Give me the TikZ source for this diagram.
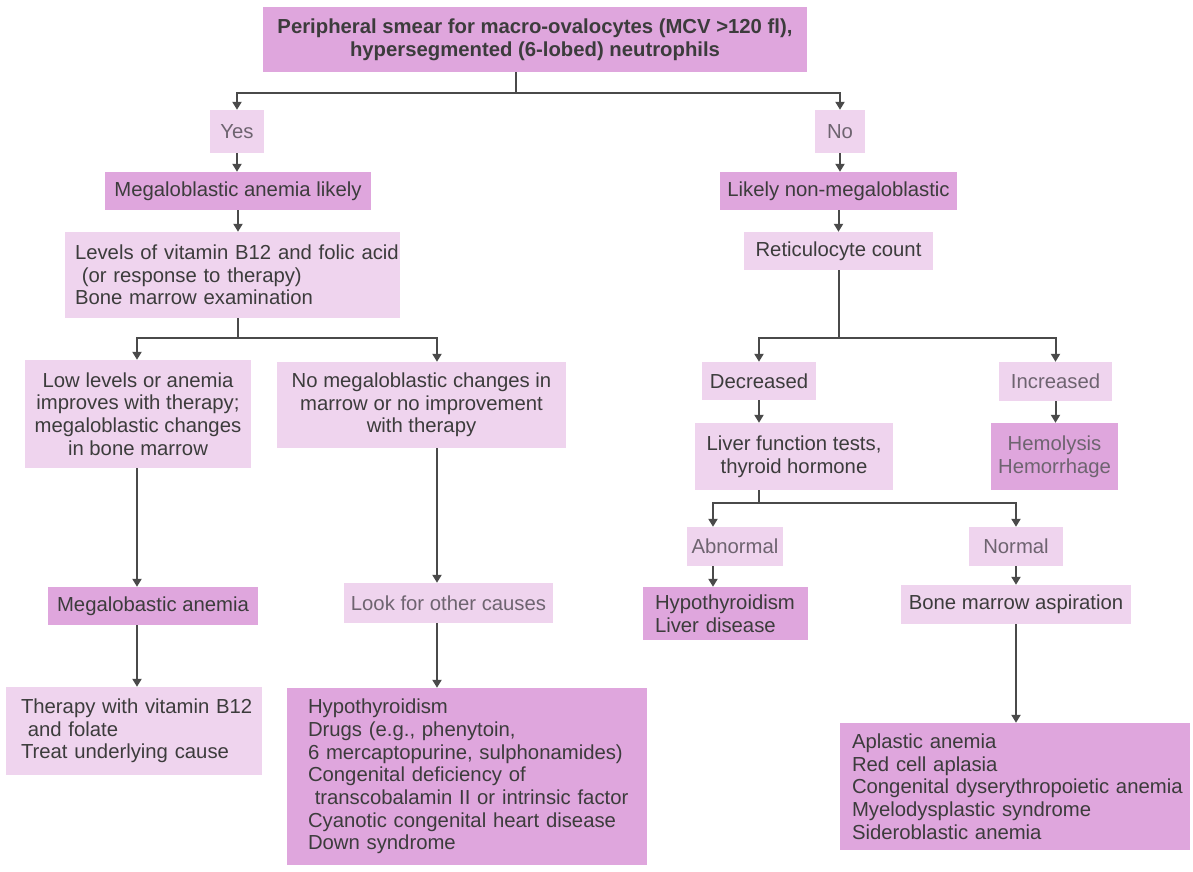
\documentclass[tikz,border=0pt]{standalone}
\usepackage{fontspec}
\setmainfont{Liberation Sans}
\usetikzlibrary{arrows.meta}
\definecolor{sat}{HTML}{DFA6DD}
\definecolor{lite}{HTML}{EFD4EE}
\definecolor{ink}{HTML}{3C3C3C}
\definecolor{dim}{HTML}{6E6470}
\definecolor{wire}{HTML}{4A4A4A}
\newcommand\bodyfont{\fontsize{20.3}{22.7}\selectfont}
\newcommand\tline[1]{\mbox{#1}}
\begin{document}
\begin{tikzpicture}[x=1pt,y=-1pt,
  every node/.style={font=\bodyfont},
  box/.style={inner sep=0pt, text=ink, anchor=center},
  satbox/.style={box, fill=sat},
  litebox/.style={box, fill=lite},
  dimtext/.style={text=dim},
  line/.style={draw=wire, line width=2pt},
  arr/.style={line, -{Triangle[width=9pt,length=8pt]}}]
\useasboundingbox (0,0) rectangle (1193,871);
\fill[white] (0,0) rectangle (1193,871);

% ---------- nodes ----------
\node[satbox, font=\bodyfont\bfseries, align=center, minimum width=544pt, minimum height=65pt] (top) at (535,39.5)
  {Peripheral smear for macro-ovalocytes (MCV >120 fl),\\hypersegmented (6-lobed) neutrophils};
\node[litebox, dimtext, minimum width=54pt, minimum height=43pt] (yes) at (237,131.5) {Yes};
\node[litebox, dimtext, minimum width=50pt, minimum height=43pt] (no) at (840,131.5) {No};
\node[satbox, minimum width=266pt, minimum height=38pt] (mal) at (238,191) {Megaloblastic anemia likely};
\node[satbox, minimum width=237pt, minimum height=38pt] (lnm) at (838.5,191) {Likely non-megaloblastic};
\node[litebox, align=left, inner xsep=10pt, text width=315pt, minimum height=86pt] (lev) at (232.5,275)
  {\tline{Levels of vitamin B12 and folic acid}\\\tline{\ (or response to therapy)}\\\tline{Bone marrow examination}};
\node[litebox, minimum width=189pt, minimum height=38pt] (ret) at (838.5,251) {Reticulocyte count};
\node[litebox, align=center, minimum width=226pt, minimum height=108pt] (low) at (138,414)
  {Low levels or anemia\\improves with therapy;\\megaloblastic changes\\in bone marrow};
\node[litebox, align=center, minimum width=289pt, minimum height=86pt] (nom) at (421.5,405)
  {No megaloblastic changes in\\marrow or no improvement\\with therapy};
\node[litebox, minimum width=114pt, minimum height=38pt] (dec) at (759,381) {Decreased};
\node[litebox, dimtext, minimum width=113pt, minimum height=39pt] (inc) at (1055.5,381.5) {Increased};
\node[litebox, align=center, minimum width=198pt, minimum height=67pt] (liv) at (794,456.5)
  {Liver function tests,\\thyroid hormone};
\node[satbox, dimtext, align=center, minimum width=127pt, minimum height=67pt] (hem) at (1054.5,456.5)
  {Hemolysis\\Hemorrhage};
\node[litebox, dimtext, minimum width=96pt, minimum height=39pt] (abn) at (735,546.5) {Abnormal};
\node[litebox, dimtext, minimum width=94pt, minimum height=39pt] (nor) at (1016,546.5) {Normal};
\node[satbox, align=left, inner xsep=12pt, text width=141pt, minimum height=53pt] (hl) at (725.5,613.5)
  {\tline{Hypothyroidism}\\\tline{Liver disease}};
\node[litebox, minimum width=230pt, minimum height=39pt] (bma) at (1016,604.5) {Bone marrow aspiration};
\node[satbox, align=left, inner xsep=12pt, text width=326pt, minimum height=127pt] (apl) at (1015,786.5)
  {\tline{Aplastic anemia}\\\tline{Red cell aplasia}\\\tline{Congenital dyserythropoietic anemia}\\\tline{Myelodysplastic syndrome}\\\tline{Sideroblastic anemia}};
\node[satbox, minimum width=210pt, minimum height=38pt] (meg) at (153,606) {Megalobastic anemia};
\node[litebox, dimtext, minimum width=209pt, minimum height=40pt] (look) at (448.5,603) {Look for other causes};
\node[litebox, align=left, inner xsep=15pt, text width=226pt, minimum height=88pt] (ther) at (134,731)
  {\tline{Therapy with vitamin B12}\\\tline{\ and folate}\\\tline{Treat underlying cause}\\[12pt]};
\node[satbox, align=left, inner xsep=21pt, text width=318pt, minimum height=177pt] (hyp) at (467,776.5)
  {\tline{Hypothyroidism}\\\tline{Drugs (e.g., phenytoin,}\\\tline{6 mercaptopurine, sulphonamides)}\\\tline{Congenital deficiency of}\\\tline{\ transcobalamin II or intrinsic factor}\\\tline{Cyanotic congenital heart disease}\\\tline{Down syndrome}};

% ---------- branch points ----------
\coordinate (b0) at (516,93);
\coordinate (b1) at (238,338);
\coordinate (c1) at (437,338);
\coordinate (b2) at (838.5,338);
\coordinate (b3) at (759,503);
\coordinate (c3) at (713,503);
\coordinate (c4) at (137,600);

% ---------- connectors ----------
\draw[line] (b0 |- top.south) -- (b0);
\draw[arr] (b0) -| (yes.north);
\draw[arr] (b0) -| (no.north);
\draw[arr] (yes.south) -- (yes.south |- mal.north);
\draw[arr] (no.south) -- (no.south |- lnm.north);
\draw[arr] (mal.south) -- (mal.south |- lev.north);
\draw[arr] (lnm.south) -- (lnm.south |- ret.north);

\draw[line] (b1 |- lev.south) -- (b1);
\draw[arr] (b1) -| (c4 |- low.north);
\draw[arr] (b1) -| (c1 |- nom.north);
\draw[arr] (c4 |- low.south) -- (c4 |- meg.north);
\draw[arr] (c4 |- meg.south) -- (c4 |- ther.north);
\draw[arr] (c1 |- nom.south) -- (c1 |- look.north);
\draw[arr] (c1 |- look.south) -- (c1 |- hyp.north);

\draw[line] (ret.south) -- (b2);
\draw[arr] (b2) -| (dec.north);
\draw[arr] (b2) -| (inc.north);
\draw[arr] (dec.south) -- (dec.south |- liv.north);
\draw[arr] (inc.south) -- (inc.south |- hem.north);
\draw[line] (b3 |- liv.south) -- (b3);
\draw[arr] (b3) -| (c3 |- abn.north);
\draw[arr] (b3) -| (nor.north);
\draw[arr] (c3 |- abn.south) -- (c3 |- hl.north);
\draw[arr] (nor.south) -- (nor.south |- bma.north);
\draw[arr] (bma.south) -- (bma.south |- apl.north);
\end{tikzpicture}
\end{document}
